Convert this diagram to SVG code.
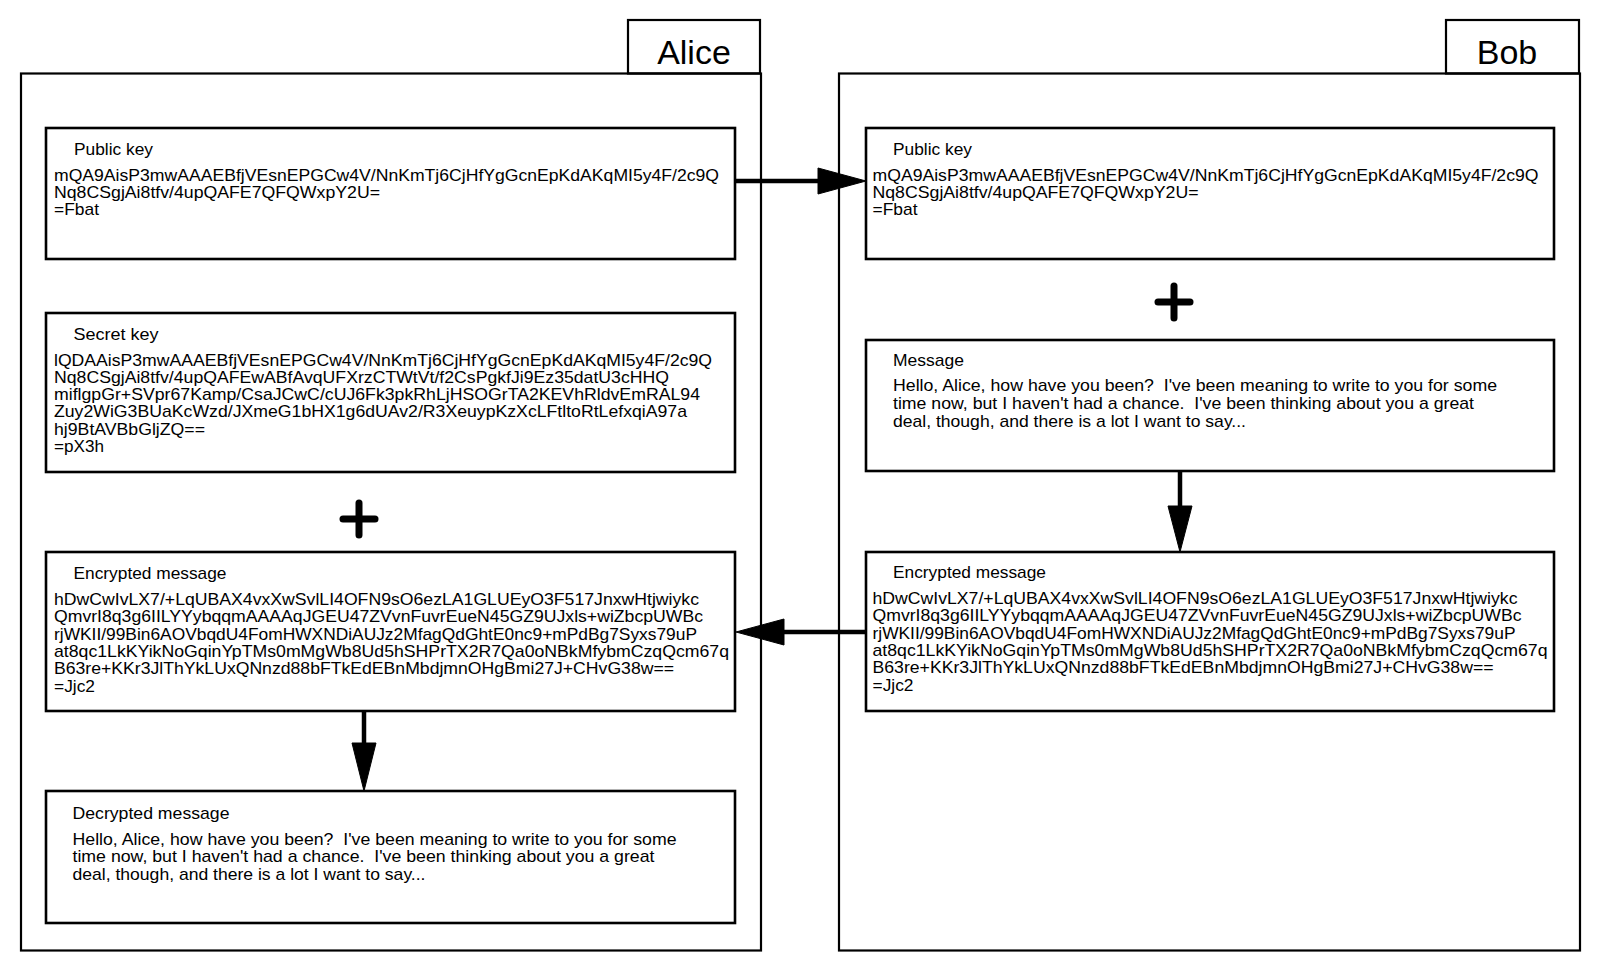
<svg xmlns="http://www.w3.org/2000/svg" width="1600" height="971" viewBox="0 0 1600 971">
<style>
.panel{fill:none;stroke:#000;stroke-width:2.2}
.box{fill:#fff;stroke:#000;stroke-width:2.6}
.name{font-family:"Liberation Sans",Arial,sans-serif;font-size:34px;fill:#000}
.ttl{font-family:"Liberation Sans",Arial,sans-serif;font-size:17px;fill:#000;white-space:pre}
.t{font-family:"Liberation Sans",Arial,sans-serif;font-size:17px;fill:#000;white-space:pre}
.line{stroke:#000;stroke-width:4.5;fill:none}
.head{fill:#000;stroke:#000;stroke-width:1}
.plus{stroke:#000;stroke-width:7;stroke-linecap:round}
</style>
<rect width="1600" height="971" fill="#fff"/>

<g id="alice-panel">
<rect class="panel" x="21" y="73.5" width="740" height="877"/>
<rect class="panel" x="628" y="20" width="132" height="53.5"/>
<text class="name" x="694" y="64" text-anchor="middle">Alice</text>
</g>

<g id="bob-panel">
<rect class="panel" x="839" y="73.5" width="741" height="877"/>
<rect class="panel" x="1446" y="20" width="133" height="53.5"/>
<text class="name" x="1507" y="64" text-anchor="middle">Bob</text>
</g>

<g id="alice-public-key">
<rect class="box" x="46" y="128" width="689" height="131"/>
<text class="ttl" x="74" y="155" textLength="79" lengthAdjust="spacingAndGlyphs">Public key</text>
<text class="t" x="54" y="181" textLength="665" lengthAdjust="spacingAndGlyphs">mQA9AisP3mwAAAEBfjVEsnEPGCw4V/NnKmTj6CjHfYgGcnEpKdAKqMI5y4F/2c9Q</text>
<text class="t" x="54" y="198" textLength="326" lengthAdjust="spacingAndGlyphs">Nq8CSgjAi8tfv/4upQAFE7QFQWxpY2U=</text>
<text class="t" x="54" y="215" textLength="45" lengthAdjust="spacingAndGlyphs">=Fbat</text>
</g>

<g id="alice-secret-key">
<rect class="box" x="46" y="313" width="689" height="159"/>
<text class="ttl" x="73.5" y="340" textLength="85" lengthAdjust="spacingAndGlyphs">Secret key</text>
<text class="t" x="54" y="366" textLength="658" lengthAdjust="spacingAndGlyphs">lQDAAisP3mwAAAEBfjVEsnEPGCw4V/NnKmTj6CjHfYgGcnEpKdAKqMI5y4F/2c9Q</text>
<text class="t" x="54" y="383" textLength="615" lengthAdjust="spacingAndGlyphs">Nq8CSgjAi8tfv/4upQAFEwABfAvqUFXrzCTWtVt/f2CsPgkfJi9Ez35datU3cHHQ</text>
<text class="t" x="54" y="400" textLength="646" lengthAdjust="spacingAndGlyphs">miflgpGr+SVpr67Kamp/CsaJCwC/cUJ6Fk3pkRhLjHSOGrTA2KEVhRldvEmRAL94</text>
<text class="t" x="54" y="417" textLength="633" lengthAdjust="spacingAndGlyphs">Zuy2WiG3BUaKcWzd/JXmeG1bHX1g6dUAv2/R3XeuypKzXcLFtltoRtLefxqiA97a</text>
<text class="t" x="54" y="435" textLength="151" lengthAdjust="spacingAndGlyphs">hj9BtAVBbGljZQ==</text>
<text class="t" x="54" y="452" textLength="50" lengthAdjust="spacingAndGlyphs">=pX3h</text>
</g>

<g id="alice-plus">
<line class="plus" x1="343" y1="519" x2="375" y2="519"/>
<line class="plus" x1="359" y1="503" x2="359" y2="535"/>
</g>

<g id="alice-encrypted">
<rect class="box" x="46" y="552" width="689" height="159"/>
<text class="ttl" x="73.5" y="579" textLength="153" lengthAdjust="spacingAndGlyphs">Encrypted message</text>
<text class="t" x="54" y="605" textLength="645" lengthAdjust="spacingAndGlyphs">hDwCwIvLX7/+LqUBAX4vxXwSvlLI4OFN9sO6ezLA1GLUEyO3F517JnxwHtjwiykc</text>
<text class="t" x="54" y="622" textLength="649" lengthAdjust="spacingAndGlyphs">QmvrI8q3g6IILYYybqqmAAAAqJGEU47ZVvnFuvrEueN45GZ9UJxls+wiZbcpUWBc</text>
<text class="t" x="54" y="640" textLength="643" lengthAdjust="spacingAndGlyphs">rjWKII/99Bin6AOVbqdU4FomHWXNDiAUJz2MfagQdGhtE0nc9+mPdBg7Syxs79uP</text>
<text class="t" x="54" y="657" textLength="675" lengthAdjust="spacingAndGlyphs">at8qc1LkKYikNoGqinYpTMs0mMgWb8Ud5hSHPrTX2R7Qa0oNBkMfybmCzqQcm67q</text>
<text class="t" x="54" y="674" textLength="620" lengthAdjust="spacingAndGlyphs">B63re+KKr3JlThYkLUxQNnzd88bFTkEdEBnMbdjmnOHgBmi27J+CHvG38w==</text>
<text class="t" x="54" y="692" textLength="41" lengthAdjust="spacingAndGlyphs">=Jjc2</text>
</g>

<g id="alice-decrypted">
<rect class="box" x="46" y="791" width="689" height="132"/>
<text class="ttl" x="72.5" y="819" textLength="157" lengthAdjust="spacingAndGlyphs">Decrypted message</text>
<text class="t" x="72.5" y="845" textLength="604" lengthAdjust="spacingAndGlyphs">Hello, Alice, how have you been?  I've been meaning to write to you for some</text>
<text class="t" x="72.5" y="862" textLength="582" lengthAdjust="spacingAndGlyphs">time now, but I haven't had a chance.  I've been thinking about you a great</text>
<text class="t" x="72.5" y="880" textLength="353" lengthAdjust="spacingAndGlyphs">deal, though, and there is a lot I want to say...</text>
</g>

<g id="bob-public-key">
<rect class="box" x="866" y="128" width="688" height="131"/>
<text class="ttl" x="893" y="155" textLength="79" lengthAdjust="spacingAndGlyphs">Public key</text>
<text class="t" x="872.5" y="181" textLength="666" lengthAdjust="spacingAndGlyphs">mQA9AisP3mwAAAEBfjVEsnEPGCw4V/NnKmTj6CjHfYgGcnEpKdAKqMI5y4F/2c9Q</text>
<text class="t" x="872.5" y="198" textLength="326" lengthAdjust="spacingAndGlyphs">Nq8CSgjAi8tfv/4upQAFE7QFQWxpY2U=</text>
<text class="t" x="872.5" y="215" textLength="45" lengthAdjust="spacingAndGlyphs">=Fbat</text>
</g>

<g id="bob-plus">
<line class="plus" x1="1158" y1="302" x2="1190" y2="302"/>
<line class="plus" x1="1174" y1="286" x2="1174" y2="318"/>
</g>

<g id="bob-message">
<rect class="box" x="866" y="340" width="688" height="131"/>
<text class="ttl" x="893" y="366" textLength="71" lengthAdjust="spacingAndGlyphs">Message</text>
<text class="t" x="893" y="391" textLength="604" lengthAdjust="spacingAndGlyphs">Hello, Alice, how have you been?  I've been meaning to write to you for some</text>
<text class="t" x="893" y="409" textLength="581" lengthAdjust="spacingAndGlyphs">time now, but I haven't had a chance.  I've been thinking about you a great</text>
<text class="t" x="893" y="427" textLength="353" lengthAdjust="spacingAndGlyphs">deal, though, and there is a lot I want to say...</text>
</g>

<g id="bob-encrypted">
<rect class="box" x="866" y="552" width="688" height="159"/>
<text class="ttl" x="893" y="578" textLength="153" lengthAdjust="spacingAndGlyphs">Encrypted message</text>
<text class="t" x="872.5" y="604" textLength="645" lengthAdjust="spacingAndGlyphs">hDwCwIvLX7/+LqUBAX4vxXwSvlLI4OFN9sO6ezLA1GLUEyO3F517JnxwHtjwiykc</text>
<text class="t" x="872.5" y="621" textLength="649" lengthAdjust="spacingAndGlyphs">QmvrI8q3g6IILYYybqqmAAAAqJGEU47ZVvnFuvrEueN45GZ9UJxls+wiZbcpUWBc</text>
<text class="t" x="872.5" y="639" textLength="643" lengthAdjust="spacingAndGlyphs">rjWKII/99Bin6AOVbqdU4FomHWXNDiAUJz2MfagQdGhtE0nc9+mPdBg7Syxs79uP</text>
<text class="t" x="872.5" y="656" textLength="675" lengthAdjust="spacingAndGlyphs">at8qc1LkKYikNoGqinYpTMs0mMgWb8Ud5hSHPrTX2R7Qa0oNBkMfybmCzqQcm67q</text>
<text class="t" x="872.5" y="673" textLength="621" lengthAdjust="spacingAndGlyphs">B63re+KKr3JlThYkLUxQNnzd88bFTkEdEBnMbdjmnOHgBmi27J+CHvG38w==</text>
<text class="t" x="872.5" y="691" textLength="41" lengthAdjust="spacingAndGlyphs">=Jjc2</text>
</g>

<g id="connectors">
<line class="line" x1="735" y1="181" x2="820" y2="181"/>
<polygon class="head" points="818,168 866,181 818,194"/>
<line class="line" x1="866" y1="632" x2="782" y2="632"/>
<polygon class="head" points="784,619 736,632 784,645"/>
<line class="line" x1="364" y1="711" x2="364" y2="745"/>
<polygon class="head" points="352,743 364,791 376,743"/>
<line class="line" x1="1180" y1="471" x2="1180" y2="508"/>
<polygon class="head" points="1168,506 1180,552 1192,506"/>
</g>
</svg>
